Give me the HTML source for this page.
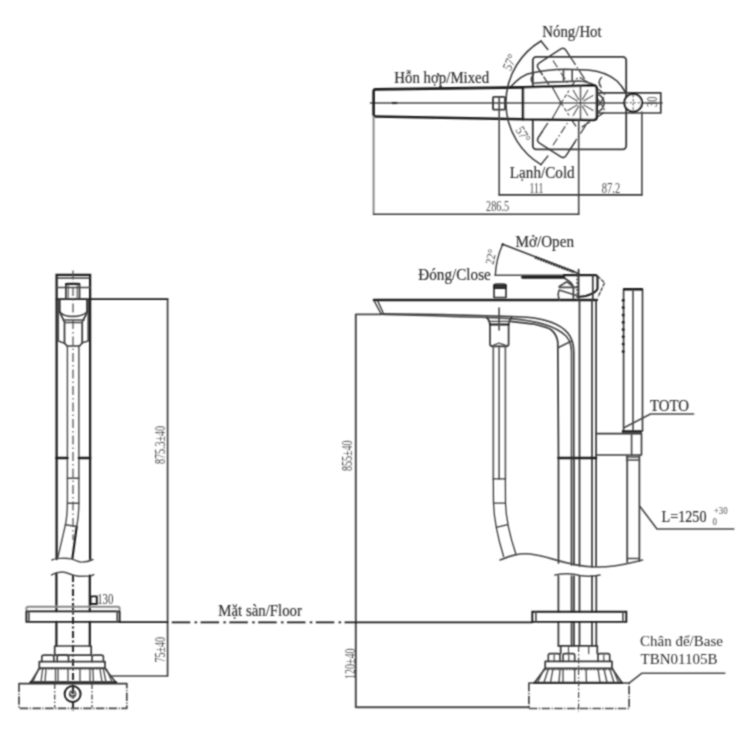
<!DOCTYPE html>
<html><head><meta charset="utf-8">
<style>
html,body{margin:0;padding:0;background:#fff;width:740px;height:740px;overflow:hidden}
svg{display:block}
text{font-family:"Liberation Serif",serif;fill:#2e2e2e}
.l{font-size:16.5px;stroke:#333;stroke-width:0.2px}
.d{font-size:15px;fill:#474747}
.k{stroke:#1c1c1c;stroke-width:2.27px}
.m{stroke:#383838;stroke-width:1.73px}
.t{stroke:#484848;stroke-width:1.62px}
.e{stroke:#888;stroke-width:1.94px}
</style></head><body>
<svg width="740" height="740" viewBox="0 0 740 740" fill="none" stroke="#2b2b2b" stroke-linecap="round" stroke-linejoin="round">
<defs><filter id="bl" x="0" y="0" width="740" height="740" filterUnits="userSpaceOnUse"><feConvolveMatrix order="3" kernelMatrix="1 2 1 2 6 2 1 2 1" divisor="18" edgeMode="none" preserveAlpha="false"/></filter></defs>
<g filter="url(#bl)">
<!-- PLAN_START -->
<g id="plan">
  <line class="t" x1="370.5" y1="103" x2="662" y2="103" style="stroke-width:1.62px"/>
  <rect class="m" x="532.8" y="56.8" width="93.4" height="92.5" rx="3.5" style="stroke-width:1.84px"/>
  <!-- curved band -->
  <path class="m" d="M510.5,87 C518,79 524,74 533,72.8 C545,70 555,69.2 565,69.2 L588,70 C600,71 610,75 617,81 C620,84 623,88 625,91.5" style="stroke-width:1.62px"/>
  <path class="t" d="M533.2,83.2 C545,82 555,81.6 565,81.6 L579,81 C586,81.5 591,83 595,85.4"/>
  <path class="t" d="M533.5,74.5 C530.5,77 530.5,81 533.2,83.2"/>
  <path class="t" d="M601.5,77.5 C598.5,80 598.5,84 601,87"/>
  <line class="t" x1="563.5" y1="70" x2="563.5" y2="81.5"/>
  <line class="t" x1="572.2" y1="70" x2="572.2" y2="81.5"/>
  <!-- hot position (rotated 57) -->
  <g transform="rotate(57 580.5 102.9)">
    <path class="m" d="M536,86.4 L528.5,86.4 Q524.5,86.4 524.5,90.4 L524.5,115.5 Q524.5,119.5 528.5,119.5 L536,119.5" style="stroke-width:1.51px"/>
    <path class="t" d="M536,86.4 L597.5,86.4 Q601.5,86.4 601.5,90.4 L601.5,115.5 Q601.5,119.5 597.5,119.5 L536,119.5" stroke-dasharray="10 2.5 1.5 2.5" stroke-linecap="butt" style="stroke-width:1.40px"/>
    <line class="t" x1="530" y1="102.9" x2="572" y2="102.9" stroke-dasharray="8 2.5 1.5 2.5" stroke-linecap="butt" style="stroke-width:1.19px"/>
  </g>
  <!-- cold position (rotated -57) -->
  <g transform="rotate(-57 580.5 102.9)">
    <path class="m" d="M536,86.4 L528.5,86.4 Q524.5,86.4 524.5,90.4 L524.5,115.5 Q524.5,119.5 528.5,119.5 L545,119.5" style="stroke-width:1.51px"/>
    <path class="t" d="M536,86.4 L597.5,86.4 Q601.5,86.4 601.5,90.4 L601.5,115.5 Q601.5,119.5 597.5,119.5 L545,119.5" stroke-dasharray="10 2.5 1.5 2.5" stroke-linecap="butt" style="stroke-width:1.40px"/>
    <line class="t" x1="530" y1="102.9" x2="572" y2="102.9" stroke-dasharray="8 2.5 1.5 2.5" stroke-linecap="butt" style="stroke-width:1.19px"/>
  </g>
  <!-- spout -->
  <path class="k" d="M523,87.4 L375.8,89.4 Q373.6,89.4 373.6,91.6 L373.6,114.3 Q373.6,116.5 375.8,116.5 L523,119.2" style="stroke-width:2.59px"/>
  <line x1="391.8" y1="103" x2="397.2" y2="103" stroke="#333" stroke-linecap="butt" style="stroke-width:2.16px"/>
  <!-- handle (mixed), white fill hides base square -->
  <path class="k" d="M523,87.3 L593.5,85.6 Q596.8,85.6 596.8,89 L596.8,116.5 Q596.8,120 593.3,120 L523,119.2 Z" fill="#fff" style="stroke-width:2.48px"/>
  <line class="t" x1="524" y1="103" x2="596" y2="103" style="stroke-width:1.40px"/>
  <!-- chevron -->
  <path class="m" d="M552,86.6 L561.1,103 L552,119" style="stroke-width:1.51px"/>
  <path class="t" d="M561.1,103 L569,115.5 M561.1,103 L569,90.5" stroke-dasharray="4 2" stroke-linecap="butt" style="stroke-width:1.30px"/>
  <!-- pivot star -->
  <line class="m" x1="580.5" y1="86" x2="580.5" y2="120" style="stroke-width:1.51px"/>
  <g class="t" stroke-linecap="butt" style="stroke-width:1.30px;stroke:#555">
    <line x1="577.5" y1="101.1" x2="567.6" y2="95.2"/>
    <line x1="577.5" y1="104.7" x2="567.6" y2="110.6"/>
    <line x1="583.5" y1="101.1" x2="593.4" y2="95.2"/>
    <line x1="583.5" y1="104.7" x2="593.4" y2="110.6"/>
    <line x1="578.8" y1="99.9" x2="573.0" y2="89.9"/>
    <line x1="578.8" y1="105.9" x2="573.0" y2="115.9"/>
    <line x1="582.2" y1="99.9" x2="588.0" y2="89.9"/>
    <line x1="582.2" y1="105.9" x2="588.0" y2="115.9"/>
  </g>
  <!-- right end bumps -->
  <path class="t" d="M597.5,94 C602,96 604,99 604,102.9 C604,107 602,110 597.5,112"/>
  <!-- small square -->
  <rect class="m" x="493" y="96.8" width="12" height="12.9" rx="1" style="stroke-width:1.84px"/>
  <line class="t" x1="499.2" y1="96.8" x2="499.2" y2="195"/>
  <!-- rod -->
  <path class="m" d="M597,92.8 L660.8,92.8 L660.8,113 L597,113" style="stroke-width:1.73px"/>
  <circle class="k" cx="633.2" cy="102.7" r="8.9" fill="#fff" style="stroke-width:2.16px"/>
  <line class="t" x1="633.2" y1="95" x2="633.2" y2="110.5" stroke-dasharray="2.5 1.5" stroke-linecap="butt" style="stroke-width:1.08px"/>
  <line class="t" x1="625.5" y1="102.7" x2="641" y2="102.7" stroke-dasharray="2.5 1.5" stroke-linecap="butt" style="stroke-width:1.08px"/>
  <!-- arc 57 -->
  <path class="m" d="M541,41 A72,72 0 0 0 541,164.6" style="stroke-width:1.51px"/>
  <path class="m" d="M541,41 L547.8,49.5 M541,164.6 L547.8,156.1" style="stroke-width:1.51px"/>
  <!-- dimension lines -->
  <line class="t" x1="578.7" y1="120" x2="578.7" y2="214.3"/>
  <line class="t" x1="641.9" y1="112" x2="641.9" y2="195"/>
  <line class="e" x1="373.6" y1="117" x2="373.6" y2="214.3"/>
  <line class="m" x1="499.2" y1="194.9" x2="641.9" y2="194.9" style="stroke-width:1.62px"/>
  <line class="m" x1="373.6" y1="214.3" x2="578.7" y2="214.3" style="stroke-width:1.62px"/>
</g>
<g stroke="none">
  <text class="l" transform="translate(394.3,82.6) scale(0.9,1)">Hỗn hợp/Mixed</text>
  <text class="l" transform="translate(542.3,36.5) scale(0.9,1)">Nóng/Hot</text>
  <text class="l" transform="translate(509.8,177.5) scale(0.92,1)">Lạnh/Cold</text>
  <text class="d" transform="translate(486,211) scale(0.69,1)">286.5</text>
  <text class="d" transform="translate(529.5,192.5) scale(0.65,1)">111</text>
  <text class="d" transform="translate(601.8,192.7) scale(0.7,1)">87.2</text>
  <text class="d" style="font-size:14px" transform="translate(656.5,107) rotate(-90) scale(0.75,1)">30</text>
  <text class="d" style="font-size:13.5px" transform="translate(510.5,71.5) rotate(-66) scale(0.85,1)">57°</text>
  <text class="d" style="font-size:13.5px" transform="translate(515,130) rotate(58) scale(0.85,1)">57°</text>
</g>
<!-- PLAN_END -->
<!-- FRONT_START -->
<g id="front">
  <path class="t" d="M381,314.4 L355.8,314.4 L355.8,707.3 L528.8,707.3" style="stroke-width:1.94px"/>
  <!-- spout -->
  <line class="k" x1="373.7" y1="300" x2="597" y2="300"/>
  <path class="m" d="M373.7,300 L381,313.7 M377.5,300.5 L383,312.5" style="stroke-width:1.40px"/>
  <path class="m" d="M381,313.7 C430,314 480,315 527,317.3 C545,319 560,324 567.6,332.8 C572,338 573.8,344 573.8,352 L573.8,458" style="stroke-width:1.62px"/>
  <path class="t" d="M383,314.5 C440,316 480,317 510.8,318.6 C540,321 558,328 566,336 C570.5,341 571.5,346 571.5,352 L571.5,458"/>
  <path class="m" d="M510,321.4 C520,322.5 530,323.5 533.8,324 C542,326 549,328 551.4,330 C555,333 557,337 557.8,342 L558.5,458"/>
  <line class="t" x1="558" y1="347.7" x2="571.6" y2="341"/>
  <!-- column -->
  <line class="m" x1="579.5" y1="300" x2="579.5" y2="566" style="stroke-width:1.73px"/>
  <line class="m" x1="592" y1="300" x2="592" y2="567"/>
  <line class="m" x1="596.1" y1="300" x2="596.1" y2="566"/>
  <line class="k" x1="558.5" y1="458" x2="596" y2="458" style="stroke-width:2.59px"/>
  <path class="m" d="M558.5,458 L558.5,563 M571.5,458 L571.5,565 M574,458 L574,565"/>
  <!-- hose connector + hose -->
  <path class="m" d="M486.7,317.5 C488.5,319 489.5,321 490,324.5 L490,344 Q490,346.3 492.3,346.3 L506.3,346.3 Q508.6,346.3 508.6,344 L508.6,324.5 C509.1,321 510,319 511.5,317.5"/>
  <line class="k" x1="490" y1="324.5" x2="508.6" y2="324.5" style="stroke-width:1.94px"/>
  <line class="t" x1="488.5" y1="321.4" x2="510" y2="321.4" style="stroke-width:1.30px"/>
  <path class="t" d="M492,345.8 C494.5,345 496.5,344 499.1,343 C501.7,344 503.7,345 506.5,345.8" style="stroke-width:1.30px"/>
  <line class="t" x1="499.1" y1="308" x2="499.1" y2="330" style="stroke-width:1.62px"/>
  <path class="t" d="M493.3,345.7 L493.3,479 M505.4,345.7 L505.4,479 M499.1,345.7 L499.1,479" style="stroke-width:1.62px;stroke:#555"/>
  <path class="m" d="M493.3,478.8 L505.4,478.8 M493.3,478.8 L493.5,503 C494,520 497,535 503.6,556.5 M505.4,478.8 L505.5,503 C506,520 509.5,535 515.8,553.8 M493.5,503.1 L505.5,503.1 M496.2,527.4 L507.7,524.7" style="stroke-width:1.30px"/>
  <!-- break lines -->
  <path class="t" d="M500,560 C510,556 518,553 530,554 C550,556 565,566 595,567 C615,567.5 630,563 642.5,560"/>
  <path class="t" d="M555,575 C565,573 575,574 580,575.5 C588,577 595,576 600,575"/>
  <!-- lower column -->
  <path class="m" d="M558.4,576 L558.4,611.7 M571.6,576 L571.6,611.7 M574,576 L574,611.7 M592,576 L592,611.7 M596.3,576 L596.3,611.7 M579.5,576 L579.5,611.7 M558.4,621.9 L558.4,645.8 M571.6,621.9 L571.6,645.8 M574,621.9 L574,645.8 M592,621.9 L592,645.8 M596.3,621.9 L596.3,645.8 M579.5,621.9 L579.5,645.8"/>
  <line class="m" x1="558.4" y1="645.8" x2="596.5" y2="645.8"/>
  <!-- flange plate -->
  <path class="k" d="M532.3,611.7 L626.3,611.7 L626.3,621.9 L532.3,621.9 Z" stroke-linejoin="miter" style="stroke-width:1.94px"/>
  <line class="t" x1="535.9" y1="612" x2="535.9" y2="621.6"/>
  <line class="t" x1="622.9" y1="612" x2="622.9" y2="621.6"/>
  <!-- base -->
  <path class="m" d="M560.7,645.8 L560.7,653.6 M597.3,645.8 L597.3,653.6"/>
  <path class="t" d="M568.5,646 L568.5,653.6 M588.7,646 L588.7,653.6 M554.2,655 L554.2,661 M568.8,655 L568.8,661 M603.8,655 L603.8,661" style="stroke-width:1.19px"/>
  <path class="m" d="M548.3,661.4 L548.3,655.3 Q548.3,653.6 550,653.6 L558.3,653.6 Q560,653.6 560,655.3 L560,661.4 M563,661.4 L563,655.3 Q563,653.6 564.7,653.6 L573,653.6 Q574.7,653.6 574.7,655.3 L574.7,661.4 M598,661.4 L598,655.3 Q598,653.6 599.7,653.6 L608,653.6 Q609.7,653.6 609.7,655.3 L609.7,661.4" style="stroke-width:1.62px"/>
  <rect class="m" x="545.2" y="661.4" width="66.8" height="7" style="stroke-width:1.73px"/>
  <path class="m" d="M545.2,668.4 L534.3,683.1 M612,668.4 L622.1,683.1" style="stroke-width:1.73px"/>
  <path class="t" d="M545.2,669.5 L612,669.5" stroke-dasharray="1.5 1.5" stroke-linecap="butt"/>
  <path class="t" d="M544,669 L537.5,682.5 M548.3,669 L544,682.5 M553,669 L550.5,682.5 M560,669 L559,682.5 M563,669 L563,682.5 M574.7,669 L574.7,682.5 M586,669 L586.5,682.5 M598,669 L600,682.5 M604,669 L607,682.5 M609.7,669 L614,682.5 M613,669 L618.5,682.5" style="stroke-width:1.35px"/>
  <path class="k" d="M534.3,682.8 L622.1,682.8" style="stroke-width:2.16px"/>
  <path class="m" d="M528.9,683.1 L629.1,683.1" style="stroke-width:1.51px"/>
  <path class="t" d="M528.9,683.1 L528.9,708.5 L629.1,708.5 L629.1,683.1" stroke-dasharray="8.5 1.5 1.2 1.5" stroke-linecap="butt" style="stroke-width:1.73px"/>
  <line class="t" x1="578.6" y1="646" x2="578.6" y2="712" stroke-dasharray="6 2 1.5 2" stroke-linecap="butt" style="stroke-width:1.19px"/>
  <path class="t" d="M629.1,683.1 L641.6,673.3 L724.8,673.3"/>
  <!-- handle / open-close -->
  <path class="t" d="M495.3,275.3 L563.9,275.2"/>
  <path class="k" d="M563.9,275.1 L595,275.1 Q597.5,275.1 597.5,277.6 L597.5,288.4 C597,292 590,295 585.7,296 L578.1,296.9" style="stroke-width:2.05px"/>
  <path class="k" d="M522.5,277.3 L563.9,277.3" style="stroke-width:2.81px"/>
  <path class="m" d="M502.7,244.2 L578.6,273.5" style="stroke-width:1.51px"/>
  <path class="k" d="M535,257.2 L574.6,272.2" stroke-dasharray="2 0.8" stroke-linecap="butt" style="stroke-width:2.81px;stroke:#333"/>
  <path class="m" d="M502.7,244.2 A85,85 0 0 0 495.3,275.3" style="stroke-width:1.40px"/>
  <circle cx="502.7" cy="244.6" r="1.3" fill="#2a2a2a" stroke="none"/>
  <line class="m" x1="592.8" y1="275.5" x2="592.8" y2="300"/>
  <path class="t" d="M597.5,276 L604.6,282.7 L598,297" stroke-dasharray="4 1" stroke-linecap="butt" style="stroke-width:1.40px"/>
  <path class="m" d="M563.9,278 C568,280 572,283 573.4,287 L573.4,298"/>
  <path class="t" d="M559.2,286.5 L566.8,281.8 L573.4,286.5 M559.2,287.4 L578,287.4 M559.2,290 C558,293 558,297 559.5,300 M559.2,290 L578,296"/>
  <line class="m" x1="578.6" y1="269.5" x2="578.6" y2="300"/>
  <line class="t" x1="577.2" y1="275" x2="577.2" y2="300" stroke-dasharray="2 1.5" stroke-linecap="butt"/>
  <!-- small cylinder -->
  <path class="m" d="M494,285.5 Q494,284 497,284 L503,284 Q506,284 506,285.5 L506,297.5 L494,297.5 Z"/>
  <path d="M494,285 L506,285 L506,288.5 L494,288.5 Z" fill="#333" stroke="#222" style="stroke-width:1.08px"/>
  <!-- hand shower -->
  <path class="m" d="M623.6,289 L623.6,431 M642.5,289 L642.5,431" style="stroke-width:1.62px"/>
  <line class="k" x1="623.3" y1="289.3" x2="642.8" y2="289.3" stroke-linecap="butt" style="stroke-width:2.59px"/>
  <line class="t" x1="633" y1="290" x2="633" y2="430"/>
  <circle cx="623.2" cy="300.3" r="1.5" fill="#222" stroke="none"/><circle cx="623.2" cy="307.6" r="1.5" fill="#222" stroke="none"/><circle cx="623.2" cy="314.9" r="1.5" fill="#222" stroke="none"/><circle cx="623.2" cy="322.2" r="1.5" fill="#222" stroke="none"/><circle cx="623.2" cy="329.5" r="1.5" fill="#222" stroke="none"/><circle cx="623.2" cy="336.8" r="1.5" fill="#222" stroke="none"/><circle cx="623.2" cy="344.1" r="1.5" fill="#222" stroke="none"/><circle cx="623.2" cy="351.4" r="1.5" fill="#222" stroke="none"/>
  <path class="m" d="M596.2,433.6 L641.5,433.6 L641.5,455 L596.2,455" style="stroke-width:1.62px"/>
  <line class="t" x1="631.6" y1="433.6" x2="631.6" y2="455"/>
  <line class="k" x1="623" y1="431.5" x2="641" y2="431.5" style="stroke-width:2.59px"/>
  <path class="t" d="M627.2,456 L627.2,562" style="stroke-width:1.84px"/>
  <path class="m" d="M639.4,456 L639.4,561" style="stroke-width:1.62px"/>
  <path class="t" d="M627.2,558.4 L639.4,558.4" style="stroke-width:1.51px"/>
  <path class="t" d="M626.5,457 L639.5,457 M626.5,460 L639.5,460"/>
  <!-- leaders -->
  <path class="t" d="M624.5,427.5 L650.5,414 L693.6,414"/>
  <path class="t" d="M640,506.5 L657,529 L733.8,529"/>
</g>
<g stroke="none">
  <text class="l" transform="translate(418.3,280.2) scale(0.92,1)">Đóng/Close</text>
  <text class="l" transform="translate(515.4,247.1) scale(0.92,1)">Mở/Open</text>
  <text class="d" style="font-size:12.5px" transform="translate(493.5,265) rotate(-78) scale(0.85,1)">22°</text>
  <text class="l" transform="translate(650,411.3) scale(0.9,1)">TOTO</text>
  <text class="l" transform="translate(661.5,521.5) scale(0.86,1)">L=1250</text>
  <text class="d" style="font-size:11px" transform="translate(713.8,514.3) scale(0.8,1)">+30</text>
  <text class="d" style="font-size:11px" transform="translate(712.4,524.7) scale(0.8,1)">0</text>
  <text class="l" style="font-size:15px;stroke:none" x="640" y="646.2">Chân để/Base</text>
  <text class="l" style="font-size:15px;stroke:none" x="640.5" y="664">TBN01105B</text>
  <text class="d" transform="translate(352.3,471) rotate(-90) scale(0.67,1)">855±40</text>
  <text class="d" transform="translate(354.5,679) rotate(-90) scale(0.67,1)">120±40</text>
  <text class="l" transform="translate(218.3,615.7) scale(0.9,1)">Mặt sàn/Floor</text>
</g>
<!-- FRONT_END -->
<!-- SIDE_START -->
<g id="side">
  <!-- column outline upper -->
  <path class="k" d="M56.6,559 L56.6,274.8 L90.1,274.8 L90.1,559" stroke-linejoin="miter"/>
  <line class="m" x1="56.6" y1="278" x2="90.1" y2="278" style="stroke-width:1.62px"/>
  <line class="t" x1="56.6" y1="287.5" x2="90.1" y2="287.5"/>
  <line class="k" x1="56.6" y1="299.1" x2="167.6" y2="299.1" style="stroke-width:1.94px"/>
  <path class="m" d="M65.9,299 L65.9,284.5 Q65.9,283.6 67,283.6 L78.4,283.6 Q79.5,283.6 79.5,284.5 L79.5,299"/>
  <line class="k" x1="66" y1="284" x2="79.4" y2="284" style="stroke-width:1.94px"/>
  <path class="t" d="M68.2,284 L68.2,299 M77.2,284 L77.2,299" style="stroke-width:1.08px"/>
  <!-- inner double lines -->
  <path class="t" d="M58.3,300 L58.3,341 L64.5,343.3 M88.2,300 L88.2,341 L82.2,342.8"/>
  <!-- funnel -->
  <path class="m" d="M59.8,300 L59.8,312 C61,316 63,318 64.5,322 L64.5,343 L67,346 L79.5,346 L82.2,343 L82.2,322 C84,318 86,316 87,312 L87,300"/>
  <path class="m" d="M59.8,312 C65,318 80,318 87,312" style="stroke-width:1.40px"/>
  <path class="t" d="M63,320 L84,320 M64.5,322.5 L82.2,322.5"/>
  <!-- pipe -->
  <path class="t" d="M67.4,346 L67.4,503 C67.2,512 66.5,520 65.4,524.8 L57.8,557.8 M78.9,346 L78.9,503 C78.8,512 78,520 76.7,526.5" style="stroke-width:1.40px"/>
  <path class="k" d="M76.7,526.5 L72.4,558.3" style="stroke-width:2.16px"/>
  <path class="t" d="M67.4,478.3 L78.9,478.3 M67.4,503.2 L78.9,503.2 M65.4,524.8 L76.7,526.5"/>
  <line class="t" x1="73" y1="270.6" x2="73" y2="540" stroke-dasharray="9 3 1.5 3" stroke-linecap="butt" style="stroke-width:1.19px"/>
  <path class="k" d="M56.6,458 L67.4,458 M78.9,458 L90.1,458" style="stroke-width:2.59px"/>
  <!-- break lines -->
  <path class="t" d="M51.9,560 C55,558.5 65,557.5 71.3,558.9 C76,560 78,562.3 82,562.1 C87,562 90,561 93,559.5" style="stroke-width:1.40px"/>
  <path class="t" d="M51.5,574.9 C55,573 58,572.1 62,572.1 C67,572.2 70,574.3 72.6,574.9 C75,575.6 77,576.3 79.6,576.3 L90.2,576 C91.5,575.8 92.7,575.2 93.7,574.6" style="stroke-width:1.51px"/>
  <!-- lower column -->
  <path class="k" d="M56.4,574 L56.4,611.2 M89.8,575.5 L89.8,611.2 M56.4,621.9 L56.4,646 M89.8,621.9 L89.8,646" style="stroke-width:2.16px"/>
  <line x1="73" y1="575" x2="73" y2="711" stroke="#333" stroke-dasharray="7 2.5 2 2.5" stroke-linecap="butt" style="stroke-width:2.16px"/>
  <!-- square 130 -->
  <rect class="k" x="90.6" y="596.4" width="6.2" height="7.6" style="stroke-width:1.94px"/>
  <!-- plate -->
  <path class="e" d="M26.4,610 L26.4,608.5 Q26.4,606.8 28,606.8 L118,606.8 Q119.6,606.8 119.6,608.5 L119.6,610" style="stroke-width:1.94px"/>
  <path class="k" d="M26.4,611.4 L119.6,611.4 L119.6,621.9 L26.4,621.9 Z" style="stroke-width:1.84px"/>
  <line class="t" x1="28.9" y1="611.5" x2="28.9" y2="621.8"/>
  <line class="t" x1="117.2" y1="611.5" x2="117.2" y2="621.8"/>
  <!-- base -->
  <path class="m" d="M54.7,646 L91.2,646 L91.2,655.1 L54.7,655.1 Z" style="stroke-width:1.73px"/>
  <path class="m" d="M41.8,661.6 L41.8,657 Q41.8,655.1 44,655.1 L52,655.1 Q53.9,655.1 53.9,657 L53.9,661.6 M57.2,661.6 L57.2,657 Q57.2,655.1 59,655.1 L66.5,655.1 Q68.5,655.1 68.5,657 L68.5,661.6 M92,661.6 L92,657 Q92,655.1 94,655.1 L101.5,655.1 Q103.4,655.1 103.4,657 L103.4,661.6" style="stroke-width:1.62px"/>
  <rect class="m" x="39.3" y="661.6" width="65.7" height="6.5" style="stroke-width:1.73px"/>
  <path class="t" d="M39.3,668.9 L105,668.9" stroke-dasharray="1.5 1.5" stroke-linecap="butt"/>
  <path class="m" d="M39.3,668.5 L30.4,683 M105,668.5 L116.2,683" style="stroke-width:1.62px"/>
  <path class="k" d="M30.4,682.3 L116.2,682.3" style="stroke-width:2.16px"/>
  <path class="t" d="M38.5,669 L32.8,682 M42.6,669 L41,682 M46,669 L45,682 M55.5,669 L55.5,682 M58,669 L58,682 M68,669 L68,682 M80,669 L80,682 M90,669 L90,682 M92.8,669 L93.5,682 M100,669 L102,682 M103.4,669 L106,682 M106.5,669 L112,682" style="stroke-width:1.30px"/>
  <path class="m" d="M19,683.6 L126.8,683.6" style="stroke-width:1.62px"/>
  <path class="t" d="M19,683.6 L19,708.3 L126.8,708.3 L126.8,683.6" stroke-dasharray="8.5 1.5 1.2 1.5" stroke-linecap="butt" style="stroke-width:1.73px"/>
  <path class="t" d="M54.7,684 L54.7,707.5 M92,684 L92,707.5" stroke-dasharray="5 2 1.5 2" stroke-linecap="butt" style="stroke-width:1.30px"/>
  <circle class="k" cx="72.6" cy="694" r="8" style="stroke-width:1.94px"/>
  <circle class="t" cx="72.6" cy="694" r="3.2" style="stroke-width:1.19px"/>
  <path class="t" d="M72.6,691.5 L74.8,695.5 L70.4,695.5 Z" style="stroke-width:0.97px"/>
  <!-- dims -->
  <line class="m" x1="167.6" y1="299.1" x2="167.6" y2="676" style="stroke-width:1.62px"/>
  <line class="t" x1="111.5" y1="676" x2="167.6" y2="676" style="stroke-width:1.51px"/>
</g>
<g stroke="none">
  <text class="d" style="fill:#333" transform="translate(97.2,604.3) scale(0.72,1.03)">130</text>
  <text class="d" transform="translate(165,464) rotate(-90) scale(0.67,1)">875.3±40</text>
  <text class="d" transform="translate(165,662.5) rotate(-90) scale(0.67,1)">75±40</text>
</g>
<!-- SIDE_END -->
<!-- floor line -->
<path d="M171.8,622.3 L355.8,622.3" stroke="#1c1c1c" stroke-dasharray="18.5 4.3 2.5 3.5" stroke-linecap="butt" style="stroke-width:1.84px"/>
<path d="M119.6,622.2 L167.6,622.2 M355.8,622.3 L532.3,622.3" stroke="#1c1c1c" style="stroke-width:1.84px"/>
</g>
</svg>
</body></html>
